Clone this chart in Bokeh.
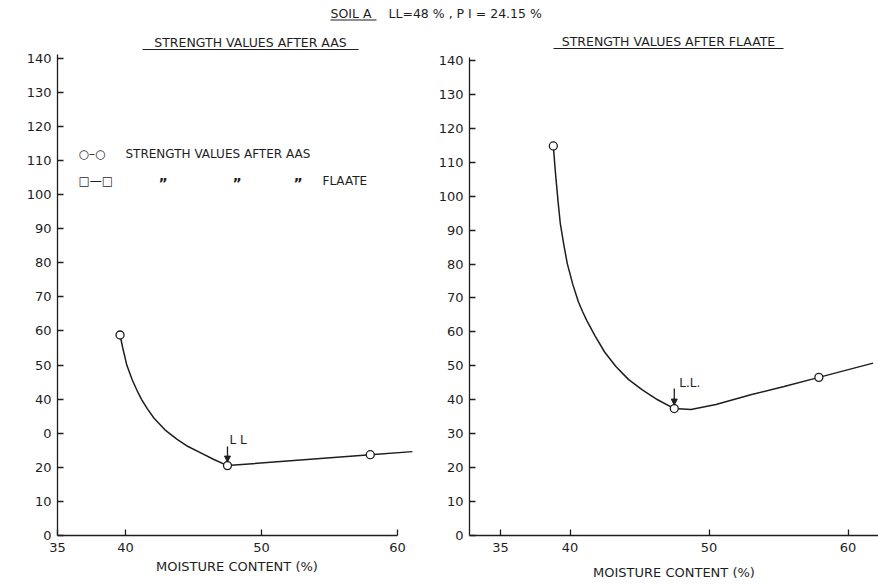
from math import pi
from bokeh.plotting import figure
from bokeh.layouts import column, row
from bokeh.models import (Label, Arrow, NormalHead, BoxAnnotation, FixedTicker,
                          Range1d)
from bokeh.embed import file_html
from bokeh.resources import INLINE

# ---------------- data ----------------
main_title_a = "SOIL A"
main_title_b = "LL=48 % ,  P I = 24.15 %"
title_aas = "STRENGTH VALUES AFTER AAS"
title_flaate = "STRENGTH VALUES AFTER FLAATE"
x_label = "MOISTURE CONTENT (%)"
y_label = "Ch/Cv \u27f6"
x_ticks = [35, 40, 50, 60]
y_ticks = [0, 10, 20, 30, 40, 50, 60, 70, 80, 90, 100, 110, 120, 130, 140]
aas_y_label_overrides = {30: "0"}

# AAS curve (left panel)
aas_curve_mc = [39.6, 39.8, 40.1, 40.5, 40.9, 41.2, 41.6, 42.1, 42.9, 43.8, 44.6,
                45.5, 46.5, 47.5, 58.0, 61.1]
aas_curve_ratio = [58.8, 55.0, 49.9, 45.6, 42.1, 39.8, 37.2, 34.4, 31.0, 28.2, 26.1,
                   24.3, 22.3, 20.5, 23.7, 24.6]
aas_points_mc = [39.6, 47.5, 58.0]
aas_points_ratio = [58.8, 20.5, 23.7]

# FLAATE curve (right panel)
flaate_curve_mc = [38.8, 38.9, 39.0, 39.15, 39.3, 39.55, 39.8, 40.2, 40.6, 40.9, 41.2,
                   41.8, 42.5, 43.3, 44.2, 45.2, 46.3, 47.5, 48.7, 50.5, 53.0,
                   55.4, 57.9, 61.8]
flaate_curve_ratio = [114.8, 109.5, 104.7, 98.0, 92.0, 85.8, 80.2, 74.0, 68.9, 66.0, 63.4,
                      58.8, 54.0, 49.8, 46.0, 42.9, 40.0, 37.4, 37.1, 38.6, 41.5,
                      43.9, 46.6, 50.8]
flaate_points_mc = [38.8, 47.5, 57.9]
flaate_points_ratio = [114.8, 37.4, 46.6]

ll_index = 1  # liquid-limit point in the point arrays
ll_text_aas = "L L"
ll_text_flaate = "L.L."

legend_row1_symbol = "\u25cb\u2013\u25cb"
legend_row1_text = title_aas
legend_row2_symbol = "\u25a1\u2014\u25a1"
ditto = "\u201d"
legend_row2_end = "FLAATE"

# ---------------- styling ----------------
FONT = "DejaVu Sans"
INK = "#1e1e1e"
FS = "13px"


def style_axes(p, label_overrides=None):
    p.xgrid.visible = False
    p.ygrid.visible = False
    p.outline_line_color = None
    for ax in (p.xaxis[0], p.yaxis[0]):
        ax.axis_line_color = INK
        ax.axis_line_width = 1.3
        ax.major_tick_line_color = INK
        ax.major_tick_line_width = 1.3
        ax.major_tick_in = 6
        ax.major_tick_out = 0
        ax.minor_tick_line_color = None
        ax.major_label_text_font = FONT
        ax.major_label_text_font_size = FS
        ax.major_label_text_color = INK
    p.xaxis.ticker = FixedTicker(ticks=x_ticks)
    p.yaxis.ticker = FixedTicker(ticks=y_ticks)
    p.yaxis.major_label_standoff = 6
    p.xaxis.major_label_standoff = 7
    p.xaxis.axis_label = x_label
    p.xaxis.axis_label_text_font = FONT
    p.xaxis.axis_label_text_font_size = FS
    p.xaxis.axis_label_text_font_style = "normal"
    p.xaxis.axis_label_text_color = INK
    p.xaxis.axis_label_standoff = 4
    p.yaxis.bounds = (0, 141)
    if label_overrides:
        p.yaxis.major_label_overrides = label_overrides


def text_label(p, x, y, text, units="screen", align="left", angle=0, size=FS,
               x_offset=0, y_offset=0, style="normal"):
    p.add_layout(Label(x=x, y=y, x_units=units, y_units=units, text=text,
                       text_font=FONT, text_font_size=size, text_color=INK,
                       text_font_style=style,
                       text_align=align, text_baseline="middle", angle=angle,
                       x_offset=x_offset, y_offset=y_offset))


def underline(p, left, right, y):
    p.add_layout(BoxAnnotation(left=left, right=right, bottom=y - 0.6, top=y + 0.6,
                               left_units="screen", right_units="screen",
                               top_units="screen", bottom_units="screen",
                               fill_color=INK, fill_alpha=1, line_color=None))


# ---------------- header ----------------
tf = figure(width=878, height=28, x_range=Range1d(0, 878), y_range=Range1d(0, 28),
            output_backend="svg", toolbar_location=None, min_border=0,
            x_axis_type=None, y_axis_type=None)
tf.outline_line_color = None
tf.xgrid.visible = False
tf.ygrid.visible = False
text_label(tf, 330, 15, main_title_a, units="data", size="12.5px")
text_label(tf, 388, 15, main_title_b, units="data", size="12.5px")
tf.add_layout(BoxAnnotation(left=330, right=376, bottom=8, top=9,
                            fill_color=INK, fill_alpha=1, line_color=None))

# ---------------- left panel (AAS) ----------------
p1 = figure(width=416, height=557, x_range=Range1d(35, 61.4), y_range=Range1d(0, 148.7),
            output_backend="svg", toolbar_location=None,
            min_border_left=57, min_border_right=0, min_border_top=0, min_border_bottom=50)
style_axes(p1, aas_y_label_overrides)
p1.xaxis.bounds = (35, 60)

p1.line(aas_curve_mc, aas_curve_ratio, line_color=INK, line_width=1.5)
p1.scatter(aas_points_mc, aas_points_ratio, marker="circle", size=8,
           fill_color="white", line_color=INK, line_width=1.3)

llx, lly = aas_points_mc[ll_index], aas_points_ratio[ll_index]
p1.add_layout(Arrow(end=NormalHead(size=6, fill_color=INK, line_color=INK),
                    x_start=llx, y_start=lly + 19 / 3.41, x_end=llx, y_end=lly + 3.5 / 3.41,
                    line_color=INK, line_width=1.3))
text_label(p1, llx, lly, ll_text_aas, units="data", size="12px", x_offset=2, y_offset=26)

# subtitle + y label + legend (screen units relative to frame)
text_label(p1, 193, 493, title_aas, align="center", size="12.5px")
underline(p1, 193 - 108, 193 + 108, 486)
text_label(p1, -44, 226, y_label, align="center", angle=pi / 2, size="12px")
text_label(p1, 21, 382, legend_row1_symbol, size="12px")
text_label(p1, 68, 382, legend_row1_text, size="12px")
text_label(p1, 21, 355, legend_row2_symbol, size="12px")
for xx in (101, 175, 236):
    text_label(p1, xx, 353, ditto, size="14px", style="bold")
text_label(p1, 265, 355, legend_row2_end, size="12px")

# ---------------- right panel (FLAATE) ----------------
p2 = figure(width=462, height=557, x_range=Range1d(32.77, 62.19), y_range=Range1d(0, 149.4),
            output_backend="svg", toolbar_location=None,
            min_border_left=53, min_border_right=0, min_border_top=0, min_border_bottom=49)
style_axes(p2)
p2.xaxis.axis_label_standoff = 10

p2.line(flaate_curve_mc, flaate_curve_ratio, line_color=INK, line_width=1.5)
p2.scatter(flaate_points_mc, flaate_points_ratio, marker="circle", size=8,
           fill_color="white", line_color=INK, line_width=1.3)

lfx, lfy = flaate_points_mc[ll_index], flaate_points_ratio[ll_index]
p2.add_layout(Arrow(end=NormalHead(size=6, fill_color=INK, line_color=INK),
                    x_start=lfx, y_start=lfy + 20 / 3.4, x_end=lfx, y_end=lfy + 3.5 / 3.4,
                    line_color=INK, line_width=1.3))
text_label(p2, lfx, lfy, ll_text_flaate, units="data", size="12px", x_offset=5, y_offset=26)

text_label(p2, 199, 494, title_flaate, align="center", size="12.5px")
underline(p2, 199 - 115, 199 + 115, 487)
text_label(p2, -42, 239, y_label, align="center", angle=pi / 2, size="12px")

layout = column(tf, row(p1, p2))
open("out.html", "w").write(file_html(layout, INLINE))
